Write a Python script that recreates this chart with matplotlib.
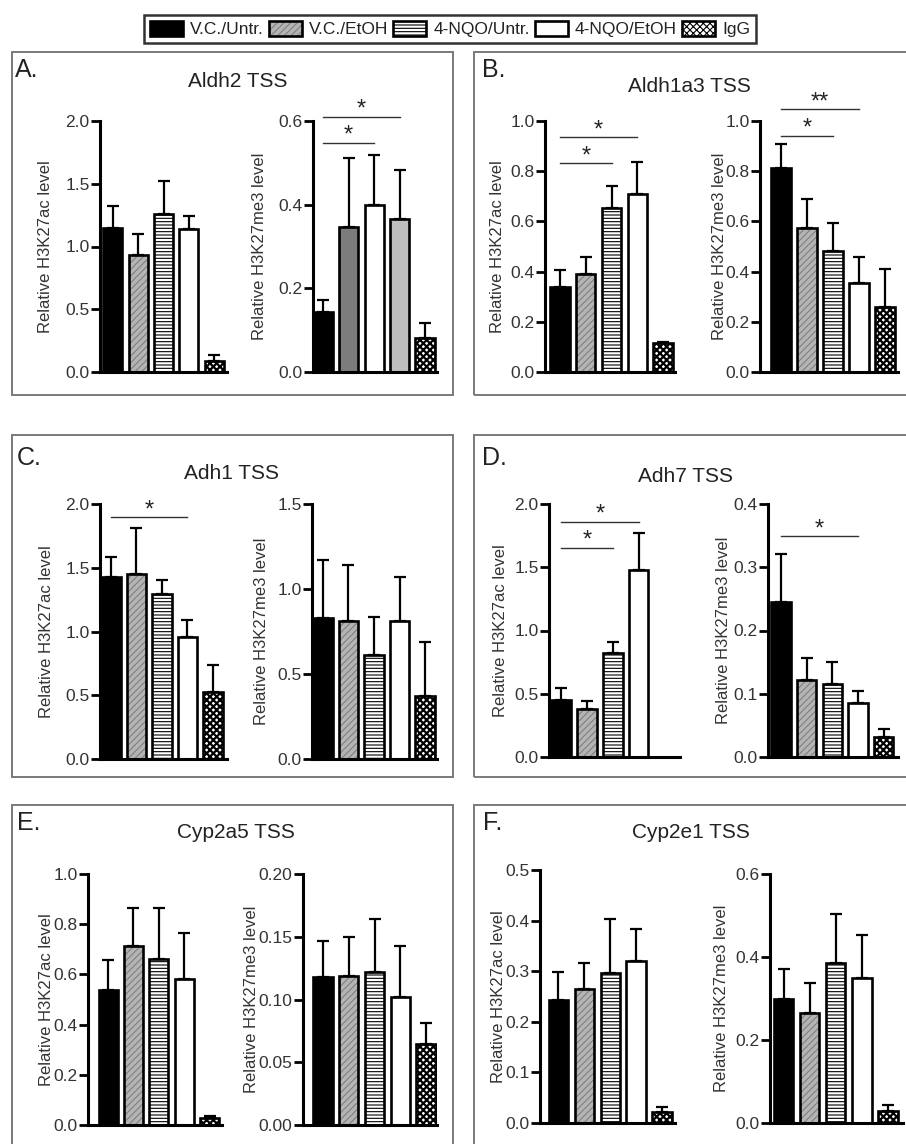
import numpy as np
import matplotlib
matplotlib.use("Agg")
import matplotlib.pyplot as plt
import matplotlib.patches as mpatches
from matplotlib.legend_handler import HandlerTuple

plt.rcParams['font.family'] = ['Liberation Sans', 'DejaVu Sans']
plt.rcParams['hatch.linewidth'] = 0.8

# ---------------- data ----------------
groups = ["V.C./Untr.", "V.C./EtOH", "4-NQO/Untr.", "4-NQO/EtOH", "IgG"]
genes = ["Aldh2", "Aldh1a3", "Adh1", "Adh7", "Cyp2a5", "Cyp2e1"]
letters = ["A.", "B.", "C.", "D.", "E.", "F."]
ac_label = "Relative H3K27ac level"
me3_label = "Relative H3K27me3 level"

# H3K27ac (mean, SEM)
aldh2_ac = [1.15, 0.93, 1.26, 1.14, 0.09]
aldh2_ac_sem = [0.175, 0.17, 0.26, 0.10, 0.045]
aldh1a3_ac = [0.337, 0.389, 0.654, 0.708, 0.114]
aldh1a3_ac_sem = [0.069, 0.068, 0.088, 0.129, 0.007]
adh1_ac = [1.425, 1.451, 1.294, 0.959, 0.525]
adh1_ac_sem = [0.162, 0.359, 0.11, 0.131, 0.212]
adh7_ac = [0.45, 0.383, 0.82, 1.48, np.nan]
adh7_ac_sem = [0.092, 0.061, 0.093, 0.29, np.nan]
cyp2a5_ac = [0.538, 0.713, 0.66, 0.582, 0.027]
cyp2a5_ac_sem = [0.119, 0.153, 0.206, 0.184, 0.009]
cyp2e1_ac = [0.243, 0.264, 0.296, 0.32, 0.022]
cyp2e1_ac_sem = [0.056, 0.053, 0.107, 0.063, 0.01]

# H3K27me3 (mean, SEM)
aldh2_me3 = [0.144, 0.346, 0.399, 0.365, 0.081]
aldh2_me3_sem = [0.028, 0.165, 0.12, 0.118, 0.037]
aldh1a3_me3 = [0.812, 0.575, 0.483, 0.353, 0.26]
aldh1a3_me3_sem = [0.096, 0.114, 0.112, 0.106, 0.149]
adh1_me3 = [0.83, 0.81, 0.61, 0.81, 0.37]
adh1_me3_sem = [0.34, 0.33, 0.225, 0.26, 0.32]
adh7_me3 = [0.245, 0.122, 0.115, 0.086, 0.032]
adh7_me3_sem = [0.076, 0.034, 0.035, 0.019, 0.013]
cyp2a5_me3 = [0.118, 0.119, 0.122, 0.102, 0.0645]
cyp2a5_me3_sem = [0.029, 0.031, 0.042, 0.041, 0.017]
cyp2e1_me3 = [0.298, 0.266, 0.385, 0.349, 0.029]
cyp2e1_me3_sem = [0.072, 0.071, 0.119, 0.103, 0.014]

ac_means = [aldh2_ac, aldh1a3_ac, adh1_ac, adh7_ac, cyp2a5_ac, cyp2e1_ac]
ac_sems = [aldh2_ac_sem, aldh1a3_ac_sem, adh1_ac_sem, adh7_ac_sem, cyp2a5_ac_sem, cyp2e1_ac_sem]
me3_means = [aldh2_me3, aldh1a3_me3, adh1_me3, adh7_me3, cyp2a5_me3, cyp2e1_me3]
me3_sems = [aldh2_me3_sem, aldh1a3_me3_sem, adh1_me3_sem, adh7_me3_sem, cyp2a5_me3_sem, cyp2e1_me3_sem]

# y-axis ranges and tick steps
ac_ymax = [2.0, 1.0, 2.0, 2.0, 1.0, 0.5]
ac_ystep = [0.5, 0.2, 0.5, 0.5, 0.2, 0.1]
me3_ymax = [0.6, 1.0, 1.5, 0.4, 0.20, 0.6]
me3_ystep = [0.2, 0.2, 0.5, 0.1, 0.05, 0.2]

# significance bars: (gene, mark, from group, to group, y, label)
sig_marks = [
    ("Aldh2", "me3", 0, 3, 0.610, "*"),
    ("Aldh2", "me3", 0, 2, 0.548, "*"),
    ("Aldh1a3", "ac", 0, 3, 0.935, "*"),
    ("Aldh1a3", "ac", 0, 2, 0.831, "*"),
    ("Aldh1a3", "me3", 0, 3, 1.047, "**"),
    ("Aldh1a3", "me3", 0, 2, 0.941, "*"),
    ("Adh1", "ac", 0, 3, 1.896, "*"),
    ("Adh7", "ac", 0, 3, 1.86, "*"),
    ("Adh7", "ac", 0, 2, 1.655, "*"),
    ("Adh7", "me3", 0, 3, 0.349, "*"),
]

# ---------------- layout (pixels) ----------------
W, H = 906, 1144
# (left, right, top, bottom, xlo, xhi)
axes_px = {
    ("Aldh2", "ac"): (100, 227, 121, 372, -0.51, 4.51),
    ("Aldh2", "me3"): (313, 437, 121, 372, -0.40, 4.47),
    ("Aldh1a3", "ac"): (545, 675, 121, 372, -0.58, 4.46),
    ("Aldh1a3", "me3"): (760, 898, 121, 372, -0.80, 4.50),
    ("Adh1", "ac"): (100, 227, 504, 759, -0.43, 4.55),
    ("Adh1", "me3"): (312, 437, 504, 759, -0.43, 4.47),
    ("Adh7", "ac"): (549, 680, 504, 757, -0.47, 4.60),
    ("Adh7", "me3"): (768, 898, 504, 757, -0.50, 4.55),
    ("Cyp2a5", "ac"): (88, 222, 874, 1125, -0.79, 4.49),
    ("Cyp2a5", "me3"): (303, 437, 874, 1125, -0.78, 4.43),
    ("Cyp2e1", "ac"): (540, 675, 870, 1123, -0.71, 4.50),
    ("Cyp2e1", "me3"): (770, 903, 874, 1123, -0.52, 4.58),
}
ylabel_x = {
    ("Aldh2", "ac"): 46, ("Aldh2", "me3"): 260,
    ("Aldh1a3", "ac"): 497, ("Aldh1a3", "me3"): 719,
    ("Adh1", "ac"): 47, ("Adh1", "me3"): 262,
    ("Adh7", "ac"): 500, ("Adh7", "me3"): 724,
    ("Cyp2a5", "ac"): 47, ("Cyp2a5", "me3"): 251,
    ("Cyp2e1", "ac"): 498, ("Cyp2e1", "me3"): 721,
}
boxes_px = [(12, 453, 52, 395), (474, 912, 52, 395),
            (12, 453, 435, 777), (474, 912, 435, 777),
            (12, 453, 805, 1160), (474, 912, 805, 1160)]
letter_px = [(15, 77), (482, 77), (17, 465), (482, 465), (17, 830), (483, 830)]
title_px = [(238, 87), (689, 92), (231, 479), (685, 482), (236, 838), (691, 838)]

# bar styles: (facecolor, hatch, hatch color)
styles = [("black", "", "black"),
          ("#b4b4b4", "/////", "#808080"),
          ("white", "-----", "black"),
          ("white", "", "black"),
          ("white", "xxxxx", "black")]
styles_aldh2_me3 = [("black", "", "black"),
                    ("#7c7c7c", "", "#7c7c7c"),
                    ("white", "", "black"),
                    ("#bdbdbd", "", "#bdbdbd"),
                    ("white", "xxxxx", "black")]

TXT = "#222222"
fig = plt.figure(figsize=(W / 100, H / 100), dpi=100)


def px_axes(l, r, t, b):
    return fig.add_axes([l / W, 1 - b / H, (r - l) / W, (b - t) / H])


def set_hlw(patch, hatch):
    if "x" in hatch and hasattr(patch, "set_hatch_linewidth"):
        patch.set_hatch_linewidth(1.6)


for (x0, x1, y0, y1) in boxes_px:
    fig.add_artist(mpatches.Rectangle((x0 / W, 1 - y1 / H), (x1 - x0) / W, (y1 - y0) / H,
                                      transform=fig.transFigure, fill=False,
                                      ec="#7a7a7a", lw=1.4))

for gi, gene in enumerate(genes):
    lx, ly = letter_px[gi]
    fig.text(lx / W, 1 - ly / H, letters[gi], fontsize=18, color=TXT, ha="left", va="baseline")
    tx, ty = title_px[gi]
    fig.text(tx / W, 1 - ty / H, f"{gene} TSS", fontsize=15, color=TXT, ha="center", va="baseline")
    for mark, means, sems, ymax, ystep, lab in (
            ("ac", ac_means[gi], ac_sems[gi], ac_ymax[gi], ac_ystep[gi], ac_label),
            ("me3", me3_means[gi], me3_sems[gi], me3_ymax[gi], me3_ystep[gi], me3_label)):
        l, r, t, b, xlo, xhi = axes_px[(gene, mark)]
        ax = px_axes(l, r, t, b)
        sty = styles_aldh2_me3 if (gene, mark) == ("Aldh2", "me3") else styles
        x = np.arange(len(groups))
        m = np.array(means, dtype=float)
        s = np.array(sems, dtype=float)
        ok = ~np.isnan(m)
        for i in x[ok]:
            fc, hatch, hc = sty[i]
            bc = ax.bar(i, m[i], width=0.75, color=fc, hatch=hatch, edgecolor=hc, linewidth=0, zorder=2)
            set_hlw(bc.patches[0], hatch)
            ax.bar(i, m[i], width=0.75, facecolor="none", edgecolor="black", linewidth=1.9, zorder=2.2)
        ax.errorbar(x[ok], m[ok], yerr=[np.zeros(ok.sum()), s[ok]], fmt="none", ecolor="black",
                    elinewidth=1.6, capsize=4, capthick=1.6, zorder=3)
        ax.set_xlim(xlo, xhi)
        ax.set_ylim(0, ymax)
        ticks = np.arange(0, ymax + ystep / 2, ystep)
        ax.set_yticks(ticks)
        fmt = "%.2f" if ystep < 0.1 else "%.1f"
        ax.set_yticklabels([fmt % v for v in ticks])
        ax.set_xticks([])
        for sp in ("top", "right"):
            ax.spines[sp].set_visible(False)
        for sp in ("left", "bottom"):
            ax.spines[sp].set_linewidth(2.2)
        ax.tick_params(axis="y", length=6.5, width=2.0, labelsize=12.5, labelcolor="#333333", pad=1)
        ax.patch.set_alpha(0)
        fig.text(ylabel_x[(gene, mark)] / W, 1 - (t + b) / 2 / H, lab, rotation=90,
                 ha="center", va="center", fontsize=12, color="#333333")
        for (sg, sm, a, bb, yv, slab) in sig_marks:
            if sg == gene and sm == mark:
                ax.plot([a, bb], [yv, yv], color="#333333", lw=1.0, clip_on=False, zorder=4)
                ax.annotate(slab, xy=((a + bb) / 2, yv), xytext=(0, -3), textcoords="offset points",
                            ha="center", va="bottom", fontsize=17, color=TXT, annotation_clip=False)

# legend
handles = []
for fc, hatch, hc in styles:
    p = mpatches.Patch(facecolor=fc, hatch=hatch, edgecolor=hc, linewidth=0)
    set_hlw(p, hatch)
    handles.append((p, mpatches.Patch(facecolor="none", edgecolor="black", linewidth=1.9)))
leg = fig.legend(handles, groups, ncol=5, loc="upper center",
                 bbox_to_anchor=(450 / W, 1 - 6 / H), fontsize=12.5,
                 handler_map={tuple: HandlerTuple(ndivide=1, pad=0)},
                 handlelength=1.9, handleheight=0.95, handletextpad=0.4,
                 columnspacing=0.3, borderpad=0.35, fancybox=False, framealpha=1)
leg.get_frame().set_edgecolor("#333333")
leg.get_frame().set_linewidth(1.8)
for t in leg.get_texts():
    t.set_color(TXT)

fig.savefig("out.png", dpi=100)
